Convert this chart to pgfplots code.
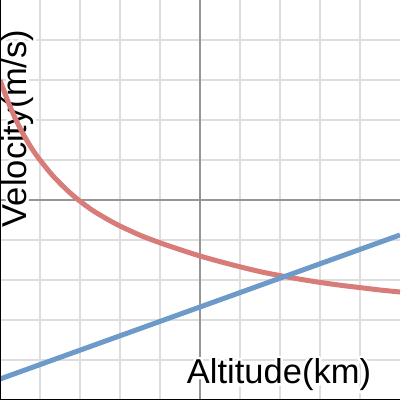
\documentclass[border=0pt]{standalone}
\usepackage{fontspec}
\setmainfont{Liberation Sans}
\usepackage{pgfplots}
\pgfplotsset{compat=1.18}
\usepackage[copies]{contour}
\contourlength{2.5pt}
\contournumber{32}

\definecolor{curvered}{RGB}{216,124,121}
\definecolor{lineblue}{RGB}{108,155,202}
\definecolor{gridgray}{RGB}{222,222,222}
\definecolor{axisgray}{RGB}{150,150,150}

\begin{document}
\begin{tikzpicture}
\begin{axis}[
    scale only axis,
    width=400pt, height=400pt,
    xmin=-5, xmax=5, ymin=-5, ymax=5,
    xtick={-4,-3,-2,-1,1,2,3,4},
    ytick={-4,-3,-2,-1,1,2,3,4},
    xticklabels={}, yticklabels={},
    major tick length=0pt,
    grid=major,
    grid style={gridgray, line width=1.5pt},
    extra x ticks={0}, extra y ticks={0},
    extra x tick labels={}, extra y tick labels={},
    extra tick style={grid style={axisgray, line width=2pt}},
    axis line style={draw=none},
    clip=true,
]
% labels first, so the curves pass over them
\node[anchor=base, font=\fontsize{34.5}{40}\selectfont]
    at (axis cs:1.975,-4.6) {\contour{white}{Altitude(km)}};
\node[anchor=base, rotate=90, font=\fontsize{34.5}{40}\selectfont]
    at (axis cs:-4.33,1.79) {\contour{white}{Velocity(m/s)}};
% velocity curve (red)
\addplot[curvered, line width=5pt, smooth] coordinates {
    (-5.0, 3.00) (-4.8, 2.46) (-4.6, 2.00) (-4.4, 1.61) (-4.2, 1.28)
    (-4.0, 1.00) (-3.7, 0.63) (-3.4, 0.32) (-3.1, 0.05) (-2.7, -0.25)
    (-2.3, -0.49) (-2.0, -0.65) (-1.5, -0.88) (-1.0, -1.07) (-0.5, -1.24)
    (0.0, -1.40) (0.5, -1.54) (1.0, -1.67) (1.5, -1.79) (2.0, -1.89)
    (2.5, -1.98) (3.0, -2.06) (3.5, -2.13) (4.0, -2.19) (4.5, -2.25)
    (5.0, -2.30)
};
% straight line (blue)
\addplot[lineblue, line width=5pt] coordinates {
    (-5.0, -4.475) (0.0, -2.675) (5.0, -0.875)
};
\draw[black, line width=2pt] (rel axis cs:0,1) -- (rel axis cs:0,0) -- (rel axis cs:1,0);
\coordinate (sw) at (rel axis cs:0,0);
\coordinate (ne) at (rel axis cs:1,1);
\end{axis}
\pgfresetboundingbox
\path[use as bounding box] (sw) rectangle (ne);
\end{tikzpicture}
\end{document}
